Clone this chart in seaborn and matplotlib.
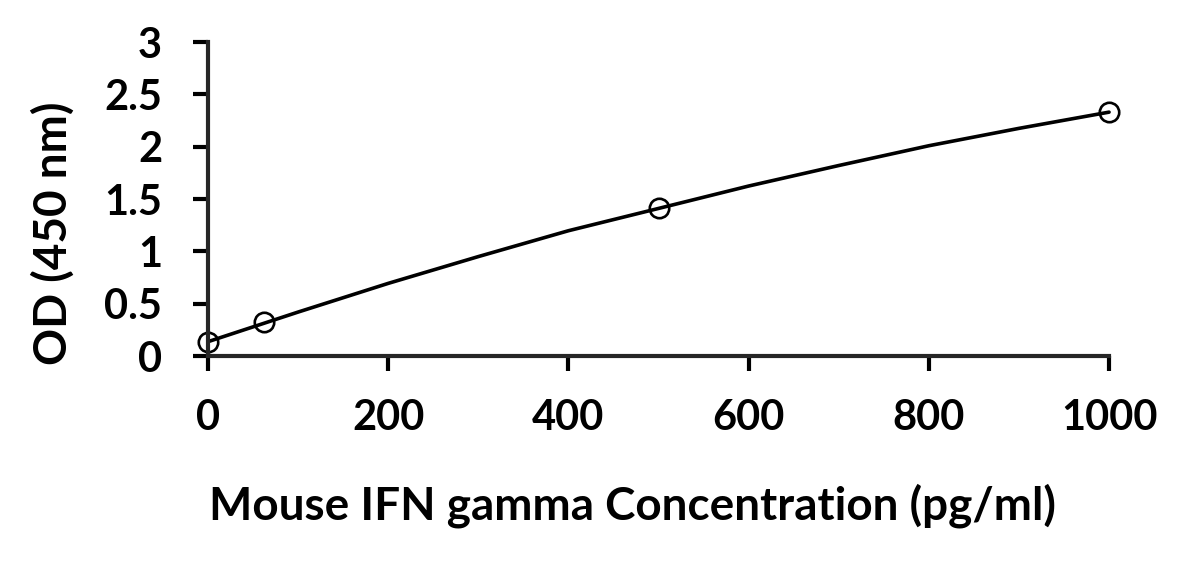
import pandas as pd
import seaborn as sns
import matplotlib.pyplot as plt

# standard points (pg/ml vs OD)
conc = [0, 62.5, 500, 1000]
od = [0.137, 0.322, 1.41, 2.33]

# fitted curve
curve_x = [0, 100, 200, 300, 400, 500, 600, 700, 800, 900, 1000]
curve_y = [0.137, 0.42, 0.694, 0.95, 1.197, 1.41, 1.624, 1.82, 2.009, 2.175, 2.33]

x_ticks = [0, 200, 400, 600, 800, 1000]
y_ticks = [0, 0.5, 1, 1.5, 2, 2.5, 3]
y_tick_labels = ["0", "0.5", "1", "1.5", "2", "2.5", "3"]

sns.set_style("ticks")
plt.rcParams['font.family'] = ['Lato', 'DejaVu Sans']
plt.rcParams['font.weight'] = 'bold'

points = pd.DataFrame({'conc': conc, 'od': od})
curve = pd.DataFrame({'x': curve_x, 'y': curve_y})

fig = plt.figure(figsize=(11.84, 5.61), dpi=100)
ax = fig.add_axes([0.1757, 0.3654, 0.7610, 0.5597])

sns.lineplot(data=curve, x='x', y='y', ax=ax, color='black', linewidth=2.6, clip_on=False)
ax.plot(points['conc'], points['od'], linestyle='none', marker='o', markersize=14,
        markerfacecolor='none', markeredgecolor='black', markeredgewidth=1.9, clip_on=False)

ax.set_xlim(0, 1000)
ax.set_ylim(0, 3)
ax.set_xticks(x_ticks)
ax.set_yticks(y_ticks)
ax.set_yticklabels(y_tick_labels)

sns.despine(ax=ax)
for s in ['left', 'bottom']:
    ax.spines[s].set_linewidth(3)
ax.tick_params(axis='both', direction='out', length=11, width=3, labelsize=30, colors='black')
ax.tick_params(axis='x', pad=20)
ax.tick_params(axis='y', pad=22)
for lab in ax.get_xticklabels() + ax.get_yticklabels():
    lab.set_fontweight('bold')

ax.set_xlabel('Mouse IFN gamma Concentration (pg/ml)', fontsize=33, fontweight='bold', color='black')
ax.set_ylabel('OD (450 nm)', fontsize=33, fontweight='bold', color='black')
ax.xaxis.set_label_coords(0.4706, -0.4045)
ax.yaxis.set_label_coords(-0.1476, 0.392)

fig.savefig('out.png', dpi=100)
